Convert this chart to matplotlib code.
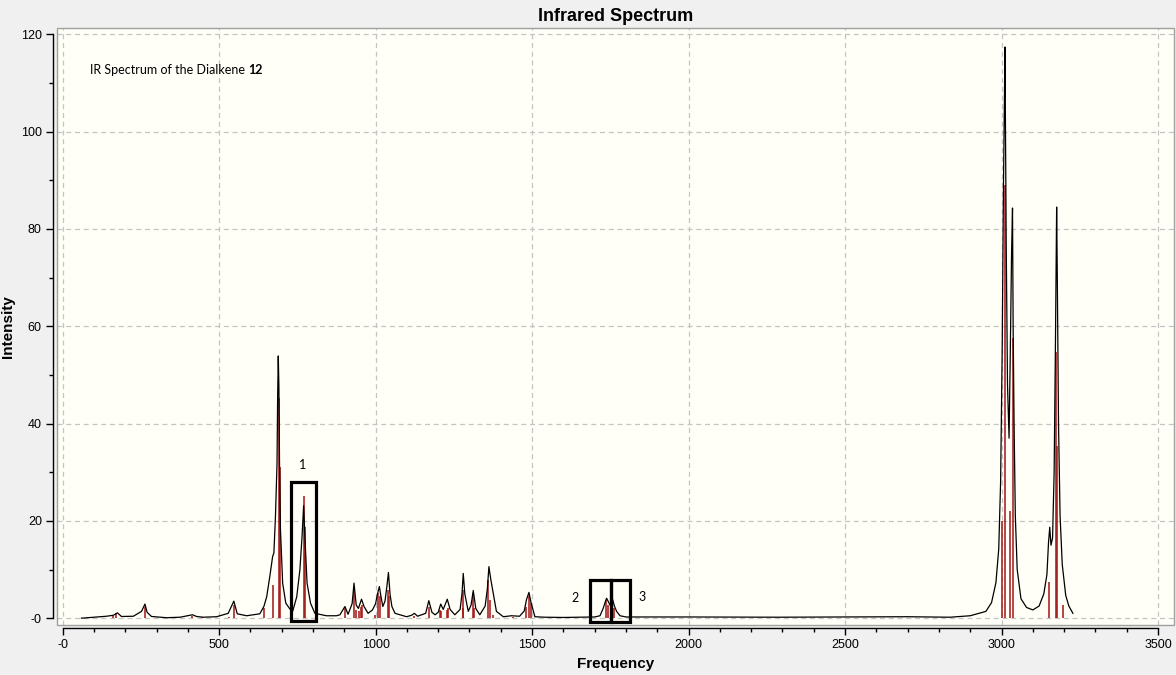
import matplotlib
matplotlib.use("Agg")
import matplotlib.pyplot as plt
from matplotlib.patches import Rectangle
from matplotlib.ticker import MultipleLocator, FuncFormatter

# ---- data: stick spectrum (frequency, intensity) ----
stick_freq = [162, 172, 263, 414, 444, 532, 547, 644, 672, 690, 694, 772, 775,
              901, 932, 937, 948, 953, 957, 998, 1009, 1014, 1041, 1044, 1124,
              1170, 1205, 1209, 1227, 1232, 1278, 1280, 1310, 1314, 1360, 1365,
              1374, 1438, 1480, 1489, 1495, 1736, 1742, 1755, 1761,
              3000, 3011, 3028, 3035, 3152, 3175, 3178, 3197]
stick_int = [0.5, 1.0, 2.4, 0.5, 0.2, 0.3, 2.7, 2.1, 6.8, 45.2, 31.0, 25.1, 18.8,
             2.05, 5.8, 1.7, 1.4, 2.4, 2.7, 0.7, 5.1, 4.5, 5.8, 4.5, 0.5,
             2.4, 1.7, 1.4, 1.7, 2.05, 5.8, 2.0, 5.1, 2.0, 7.9, 3.8,
             0.7, 0.3, 2.4, 4.5, 3.1, 3.8, 2.7, 3.8, 2.0,
             20.0, 89.0, 22.0, 57.6, 7.4, 54.8, 35.3, 2.7]

# ---- data: broadened spectrum curve ----
curve_freq = [60, 98, 140, 162, 175, 188, 226, 252, 263, 270, 284, 332, 375, 415,
              428, 449, 492, 529, 547, 558, 588, 630, 643, 652, 662, 671, 675,
              680, 685, 687, 689, 691, 693, 696, 703, 713, 726, 735, 748, 758,
              765, 770, 775, 781, 792, 806, 843, 875, 886, 902, 912, 925, 931,
              938, 945, 955, 963, 976, 990, 1000, 1006, 1012, 1017, 1023, 1030,
              1036, 1041, 1046, 1052, 1062, 1099, 1115, 1124, 1134, 1160, 1170,
              1180, 1190, 1200, 1208, 1216, 1229, 1238, 1253, 1270, 1276, 1280,
              1285, 1296, 1305, 1312, 1320, 1333, 1350, 1357, 1362, 1368, 1376,
              1386, 1408, 1434, 1460, 1475, 1482, 1490, 1497, 1509, 1540, 1600,
              1700, 1717, 1727, 1733, 1738, 1749, 1753, 1757, 1763, 1770, 1781,
              1800, 2000, 2290, 2500, 2700, 2835, 2900, 2950, 2968, 2982, 2991,
              2997, 3002, 3006, 3009, 3011, 3012, 3015, 3019, 3024, 3028, 3032,
              3035, 3037, 3040, 3044, 3050, 3062, 3080, 3100, 3120, 3135, 3145,
              3150, 3154, 3158, 3163, 3168, 3172, 3176, 3178, 3182, 3187, 3194,
              3205, 3215, 3228]
curve_int = [0.0, 0.2, 0.4, 0.6, 1.1, 0.35, 0.4, 1.4, 2.9, 1.2, 0.35, 0.1, 0.2, 0.7,
             0.35, 0.2, 0.3, 1.0, 3.5, 0.9, 0.5, 0.9, 2.4, 4.4, 8.6, 12.7, 13.4,
             20.9, 31.8, 45.5, 53.9, 47.6, 31.8, 18.2, 7.2, 3.1, 1.9, 1.4, 4.4, 9.9,
             16.8, 23.1, 15.4, 7.2, 3.1, 1.0, 0.5, 0.5, 0.7, 2.4, 0.8, 3.0, 7.2,
             2.7, 2.0, 3.9, 2.4, 1.0, 1.7, 3.0, 5.0, 6.5, 4.5, 2.4, 3.5,
             6.5, 9.4, 5.0, 2.4, 1.0, 0.3, 0.6, 1.0, 0.4, 1.0, 3.6,
             1.2, 0.7, 1.2, 2.9, 1.8, 3.9, 1.8, 0.7, 1.8, 5.0, 9.2,
             5.0, 1.4, 2.7, 5.7, 2.0, 0.7, 2.5, 6.0, 10.6, 8.0, 5.1,
             1.4, 0.3, 0.5, 0.4, 1.5, 3.8, 5.3, 3.1, 0.3, 0.2, 0.15,
             0.25, 0.5, 2.0, 3.2, 4.1, 2.7, 3.5, 3.9, 2.5, 1.4, 0.5,
             0.25, 0.25, 0.2, 0.25, 0.3, 0.2, 0.5, 1.4, 3.2, 7.3, 14.2,
             28.0, 55.0, 88.0, 106.0, 117.4, 106.0, 76.0, 48.0, 37.0, 55.0, 75.0,
             84.3, 60.0, 40.0, 21.0, 10.0, 4.0, 2.2, 1.7, 2.5, 5.0, 9.0,
             15.5, 18.7, 15.0, 16.5, 30.0, 55.0, 84.5, 71.0, 40.0, 21.0, 11.0,
             4.7, 2.5, 1.0]

# ---- annotations ----
box_labels = ["1", "2", "3"]
box_x0 = [729, 1685, 1752]
box_x1 = [809, 1752, 1812]
box_y0 = [-0.55, -0.8, -0.8]
box_y1 = [28.0, 7.9, 7.9]
label_x = [768, 1637, 1851]
label_y = [31.5, 4.2, 4.4]

W, H = 1176, 675
fig = plt.figure(figsize=(W / 100, H / 100), dpi=100, facecolor="#F0F0F0")
ax = fig.add_axes([57 / W, 1 - 625 / H, (1174 - 57) / W, (625 - 28) / H])
ax.set_facecolor("#FFFFF7")

ax.set_xlim(-18, 3551)
ax.set_ylim(-1.4, 121.3)

ax.grid(True, which="major", color="#C4C4C4", linestyle=(0, (4, 3)), linewidth=0.9)
ax.set_axisbelow(True)

ax.vlines(stick_freq, 0, stick_int, colors="#A31515", linewidth=1.1, zorder=2)
ax.plot(curve_freq, curve_int, color="black", linewidth=0.9, zorder=3)

# annotation boxes and labels
for x0, x1, y0, y1 in zip(box_x0, box_x1, box_y0, box_y1):
    ax.add_patch(Rectangle((x0, y0), x1 - x0, y1 - y0, fill=False,
                           edgecolor="black", linewidth=2.3, zorder=4, clip_on=False))
for lab, lx, ly in zip(box_labels, label_x, label_y):
    ax.text(lx, ly, lab, fontsize=9, family="Lato", ha="center", va="center", zorder=5)

# header text inside plot
t1 = ax.text(87, 112.7, "IR Spectrum of the Dialkene ", fontsize=9, family="Lato",
             ha="left", va="center")

# spines
for s in ["top", "right"]:
    ax.spines[s].set_visible(False)
ax.spines["left"].set_position(("outward", 2.9))
ax.spines["bottom"].set_position(("outward", 2.2))
ax.spines["left"].set_bounds(0, 120)
ax.spines["bottom"].set_bounds(0, 3500)
ax.spines["left"].set_linewidth(1.0)
ax.spines["bottom"].set_linewidth(1.0)

# plot-area border
ax.add_patch(Rectangle((0, 0), 1, 1, transform=ax.transAxes, fill=False,
                       edgecolor="#A0A0A0", linewidth=1.0, zorder=6, clip_on=False))

fmt = FuncFormatter(lambda v, p: "-0" if abs(v) < 1e-9 else f"{v:g}")
ax.xaxis.set_major_locator(MultipleLocator(500))
ax.xaxis.set_minor_locator(MultipleLocator(100))
ax.yaxis.set_major_locator(MultipleLocator(20))
ax.yaxis.set_minor_locator(MultipleLocator(10))
ax.xaxis.set_major_formatter(fmt)
ax.yaxis.set_major_formatter(fmt)
ax.tick_params(axis="both", which="major", length=5, width=1.0, labelsize=9,
               pad=3, colors="black")
ax.tick_params(axis="both", which="minor", length=3.2, width=1.0)
for lab in ax.get_xticklabels() + ax.get_yticklabels():
    lab.set_family("Liberation Sans")

ax.set_title("Infrared Spectrum", fontsize=13, fontweight="bold",
             family="Liberation Sans", pad=5)
ax.set_xlabel("Frequency", fontsize=11, fontweight="bold", family="Liberation Sans",
              labelpad=4)
ax.set_ylabel("Intensity", fontsize=11, fontweight="bold", family="Liberation Sans",
              labelpad=4)

fig.canvas.draw()
bb = t1.get_window_extent()
xd = ax.transData.inverted().transform((bb.x1, 0))[0]
ax.text(xd, 112.7, "12", fontsize=9, family="Lato", fontweight="bold",
        ha="left", va="center")

fig.savefig("out.png", dpi=100, facecolor=fig.get_facecolor())
